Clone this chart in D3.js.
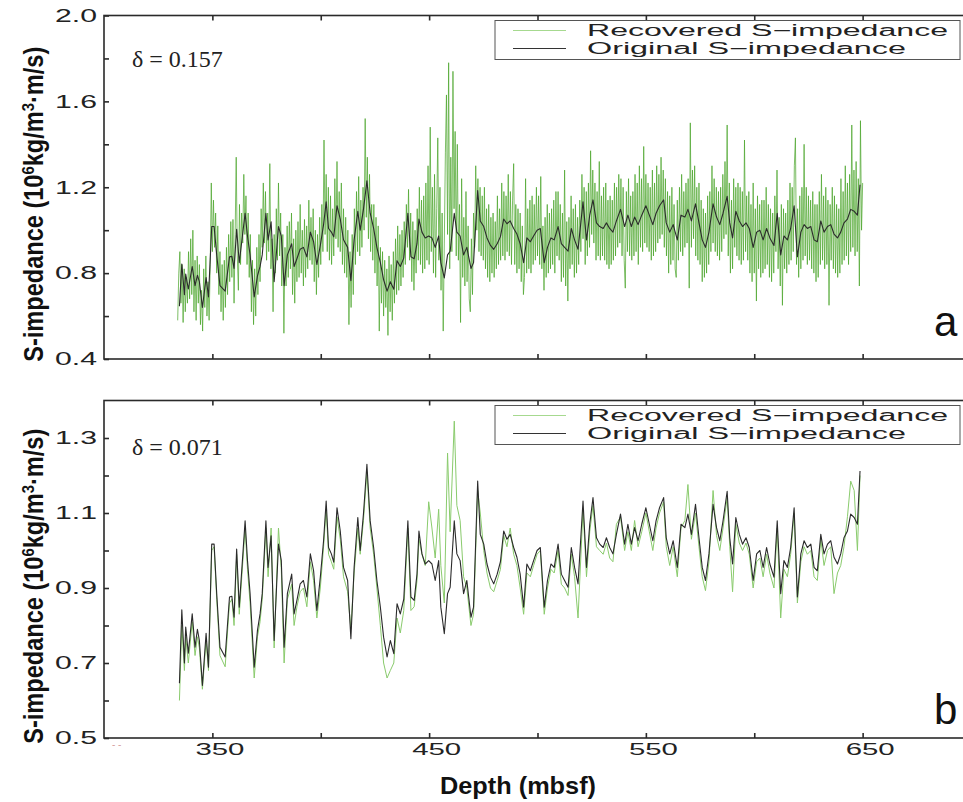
<!DOCTYPE html>
<html>
<head>
<meta charset="utf-8">
<script src="https://cdn.jsdelivr.net/npm/d3@7"></script>
<style>
  body { margin: 0; background: #fff; }
</style>
</head>
<body>
<svg id="chart" width="963" height="802"></svg>
<script>
// Original S-impedance log (depth in mbsf, impedance in 10^6 kg/m^3·m/s)
const originalDepth = [
  334.8,335.9,337.1,337.7,338.9,340.7,342.0,343.1,344.0,345.4,
  347.1,348.2,349.7,350.8,352.0,353.5,355.9,357.9,359.0,360.0,
  361.2,362.4,365.1,366.2,367.4,369.3,370.8,372.0,373.0,374.7,
  375.7,377.1,378.5,380.5,381.8,383.1,384.6,386.6,387.7,389.0,
  390.5,392.0,393.6,395.2,396.7,398.2,399.8,401.3,402.5,403.6,
  404.9,406.0,407.5,409.0,410.5,412.4,413.9,415.4,417.1,418.2,
  419.7,421.3,422.8,424.4,425.9,427.5,429.0,430.6,432.1,433.7,
  435.2,436.7,438.3,440.2,441.6,443.1,444.4,445.3,446.7,448.2,
  449.8,451.3,452.8,454.4,455.4,457.0,458.5,459.7,461.6,462.8,
  464.3,465.9,467.4,469.3,470.5,472.4,473.6,475.2,476.7,478.3,
  479.8,481.4,482.9,484.4,485.9,487.4,489.0,490.5,492.0,493.6,
  495.1,496.7,498.2,499.8,501.3,503.1,504.6,506.2,507.7,509.5,
  511.0,512.5,514.1,515.6,517.1,518.7,521.0,522.6,524.1,525.6,
  527.2,528.7,530.3,531.8,533.3,534.8,536.4,538.3,540.2,541.7,
  543.3,544.8,546.4,548.1,550.0,551.6,553.2,554.7,556.3,558.2,
  559.4,561.0,562.6,564.5,566.2,568.0,569.4,571.0,572.9,574.5,
  576.0,577.5,579.1,581.0,582.6,584.1,585.6,587.5,588.7,590.0,
  591.5,593.1,594.6,596.2,597.7,599.5,601.1,602.6,604.1,605.7,
  607.2,609.1,610.6,612.2,613.7,615.3,616.8,618.4,619.9,621.5,
  623.0,624.5,626.1,627.6,629.1,630.7,632.2,633.8,635.3,636.8,
  638.4,639.9,641.4,643.0,644.5,646.1,647.6,648.8
];
const originalImpedance = [
  0.646,0.842,0.700,0.796,0.726,0.831,0.742,0.790,0.760,0.640,
  0.779,0.689,1.017,1.017,0.885,0.742,0.716,0.876,0.878,0.822,
  1.004,0.849,1.079,0.973,0.885,0.689,0.787,0.831,0.885,1.079,
  0.955,1.039,0.760,1.017,0.973,0.742,0.885,0.937,0.831,0.867,
  0.911,0.920,0.876,0.991,0.946,0.840,0.929,1.026,1.132,1.008,
  0.991,0.969,1.114,1.052,0.955,0.920,0.765,0.955,1.088,1.000,
  1.097,1.230,1.079,1.008,0.920,0.849,0.769,0.716,0.760,0.725,
  0.858,0.831,0.870,1.079,0.876,0.867,0.937,1.052,0.991,0.964,
  0.973,0.964,0.920,0.973,0.849,0.778,0.885,0.902,1.079,0.991,
  0.973,0.885,0.920,0.822,0.849,1.185,1.043,1.017,0.964,0.929,
  0.911,0.937,0.970,1.052,1.030,1.043,1.008,0.982,0.937,0.849,
  0.964,0.946,0.973,1.000,1.008,0.849,0.920,0.964,0.955,1.017,
  0.937,0.920,0.902,1.008,0.955,0.911,1.132,0.955,1.070,1.141,
  1.034,1.017,1.008,1.034,1.008,0.991,1.043,1.097,1.017,1.070,
  1.017,1.061,1.026,1.070,1.114,1.070,1.026,1.079,1.114,1.141,
  1.034,0.991,1.026,0.955,1.070,1.061,1.097,1.043,1.123,1.034,
  0.955,0.920,0.991,1.123,1.061,1.026,1.079,1.158,1.034,0.964,
  1.088,1.043,1.017,1.034,1.008,0.920,0.991,1.000,0.955,1.008,
  0.964,0.929,1.079,0.885,0.973,0.955,1.008,1.114,0.876,0.991,
  1.026,1.008,1.017,0.955,0.946,1.043,0.991,1.017,1.026,0.982,
  0.964,0.991,1.034,1.052,1.097,1.088,1.070,1.212
];

// Recovered impedance, low-noise inversion (sampled at originalDepth)
const recoveredLowNoise = [
  0.600,0.800,0.680,0.770,0.700,0.810,0.720,0.770,0.740,0.630,
  0.760,0.680,1.000,1.010,0.870,0.720,0.690,0.860,0.870,0.800,
  0.990,0.830,1.060,0.950,0.860,0.660,0.770,0.810,0.870,1.060,
  0.930,1.060,0.740,1.060,0.950,0.700,0.870,0.910,0.800,0.850,
  0.890,0.900,0.850,0.970,0.920,0.820,0.900,1.010,1.110,0.990,
  0.970,0.950,1.090,1.030,0.930,0.890,0.790,0.940,1.060,0.990,
  1.080,1.210,1.060,0.990,0.900,0.800,0.700,0.660,0.680,0.700,
  0.820,0.780,0.840,1.060,0.840,0.850,0.920,1.030,0.990,0.960,
  1.130,1.060,0.980,1.110,0.960,0.860,1.260,1.050,1.345,1.120,
  1.080,0.930,0.900,0.800,0.830,1.160,1.100,1.000,0.940,0.900,
  0.890,0.920,0.950,1.040,1.010,1.060,0.990,0.960,0.900,0.830,
  0.940,0.930,0.960,0.990,1.000,0.830,0.900,0.950,0.940,1.000,
  0.910,0.900,0.880,0.990,0.930,0.820,1.110,0.930,1.050,1.120,
  1.010,1.000,0.990,1.020,0.980,0.970,1.070,1.090,1.000,1.050,
  1.000,1.080,1.010,1.050,1.100,1.050,1.000,1.060,1.100,1.130,
  1.010,0.960,1.010,0.930,1.060,1.080,1.176,1.030,1.100,1.010,
  0.930,0.893,0.970,1.160,1.040,1.000,1.060,1.140,1.010,0.890,
  1.070,1.020,1.000,1.020,0.990,0.900,0.970,0.980,0.930,0.990,
  0.940,0.900,1.060,0.820,0.950,0.930,0.990,1.100,0.860,0.970,
  1.010,0.990,1.000,0.930,0.920,1.030,0.960,1.000,1.010,0.885,
  0.940,0.960,1.010,1.090,1.185,1.160,1.000,1.200
];

// Recovered impedance, high-noise inversion (0.5 m sampling from 334 mbsf)
const recoveredHighNoiseStart = 334;
const recoveredHighNoiseStep = 0.5;
const recoveredHighNoise = [
  0.58,0.80,0.90,0.66,0.84,0.57,0.82,0.62,0.78,0.66,
  0.90,0.68,0.96,0.70,1.00,0.62,0.86,0.58,0.88,0.66,
  0.84,0.56,0.72,0.53,0.82,0.64,0.88,0.60,0.76,0.58,
  0.84,1.22,0.90,1.14,0.92,1.08,0.80,1.02,0.70,0.90,
  0.62,0.84,0.58,0.86,0.64,0.92,0.70,0.98,0.76,1.04,
  0.78,1.05,0.66,0.98,1.34,0.88,0.72,1.12,0.84,1.08,
  0.94,1.26,0.98,1.16,0.84,1.08,0.78,0.98,0.62,0.86,
  0.56,0.82,0.60,0.92,0.70,0.98,0.76,1.10,0.92,1.22,
  0.94,1.18,0.86,1.08,0.90,1.31,0.82,0.96,0.62,0.98,
  0.80,1.10,0.86,1.22,0.88,1.08,0.74,0.98,0.52,0.92,
  0.74,1.02,0.78,1.04,0.82,1.08,0.70,0.96,0.66,1.00,
  0.76,1.04,0.78,1.12,0.80,1.00,0.74,1.05,0.78,1.02,
  0.82,1.14,0.86,1.06,0.84,1.10,0.76,1.00,0.70,0.98,
  0.78,1.06,0.84,1.12,0.90,1.42,0.98,1.26,0.90,1.20,
  0.86,1.16,0.84,1.10,0.88,1.24,0.96,1.32,0.92,1.18,
  0.90,1.22,0.84,1.10,0.80,1.06,0.78,1.00,0.56,0.90,
  0.64,0.98,0.70,1.10,0.84,1.18,0.90,1.25,0.88,1.14,
  0.92,1.20,1.00,1.52,1.06,1.34,0.96,1.26,0.90,1.12,
  0.86,1.12,0.80,1.06,0.74,1.02,0.53,0.92,0.66,0.90,
  0.60,0.86,0.64,0.82,0.51,0.88,0.62,0.84,0.58,0.90,
  0.66,0.96,0.70,1.02,0.72,0.98,0.74,1.00,0.78,1.04,
  0.84,1.12,0.92,1.19,0.86,1.08,0.76,1.04,0.72,1.00,
  0.80,1.10,0.86,1.20,0.84,1.14,0.80,1.16,0.82,1.22,
  0.86,1.30,0.84,1.48,0.90,1.20,0.80,1.26,0.78,1.10,
  1.43,0.86,1.20,0.72,1.08,0.53,0.94,1.36,1.63,0.98,
  1.78,0.82,1.34,0.90,1.74,1.10,1.46,0.88,1.40,0.86,
  1.12,0.57,1.24,0.78,1.06,0.74,1.18,0.76,1.02,0.68,
  0.62,0.96,0.70,1.08,0.92,1.30,1.00,1.24,0.90,1.20,
  0.88,1.16,0.86,1.20,0.82,1.10,0.78,1.12,0.76,1.06,
  0.80,1.08,0.78,1.04,0.82,1.16,0.84,1.10,0.86,1.22,
  0.88,1.18,0.86,1.16,0.90,1.26,0.88,1.18,0.84,1.14,
  1.31,0.84,1.12,0.80,1.10,0.82,1.08,0.76,1.02,0.70,
  0.78,1.24,0.80,1.10,0.82,1.14,0.80,1.16,0.84,1.12,
  0.86,1.20,0.88,1.16,0.84,1.25,0.82,1.02,0.72,1.06,
  0.78,1.12,0.80,1.08,0.82,1.10,0.84,1.14,0.80,1.18,
  0.88,1.18,0.86,1.12,0.76,1.08,0.78,1.28,0.74,1.04,
  0.67,1.06,0.82,1.16,0.84,1.10,0.78,1.12,0.80,1.06,
  0.84,1.14,0.90,1.26,0.96,1.20,0.84,1.18,0.88,1.22,
  0.92,1.37,0.98,1.28,0.94,1.22,0.86,1.18,0.88,1.32,
  0.86,1.16,0.88,1.20,0.86,1.22,0.84,1.14,0.82,1.16,
  0.84,1.14,0.86,1.22,0.88,1.20,0.92,1.26,0.94,1.24,
  0.88,1.20,0.86,0.73,1.18,0.90,1.24,0.88,1.16,0.86,
  1.18,0.88,1.26,0.90,1.22,0.84,1.30,0.92,1.24,0.90,
  1.39,0.94,1.26,0.92,1.22,0.90,1.20,0.86,1.28,0.88,
  1.22,0.90,1.30,0.94,1.26,0.96,1.34,0.98,1.28,0.92,
  1.24,0.88,1.18,0.80,1.16,0.84,1.20,0.86,1.12,0.82,
  0.78,1.14,0.86,1.20,0.90,1.26,0.88,1.18,0.92,1.22,
  0.94,1.24,0.73,1.50,0.92,1.28,0.96,1.30,0.88,1.20,
  0.86,1.22,0.84,1.14,0.76,1.10,0.78,1.08,0.80,1.16,
  0.84,1.18,0.90,1.30,0.94,1.24,0.90,1.20,0.88,1.18,
  0.86,1.20,0.90,1.26,0.96,1.32,0.98,1.49,0.88,1.22,
  0.80,1.14,0.82,1.24,0.92,1.20,0.88,1.22,0.86,1.20,
  0.84,1.18,0.86,1.42,0.90,1.16,0.86,1.18,0.80,1.12,
  0.76,1.22,0.80,1.10,0.67,1.16,0.82,1.12,0.78,1.14,
  0.80,1.14,0.82,1.20,0.84,1.12,0.78,1.10,0.76,1.08,
  0.80,1.16,0.90,1.28,0.82,1.06,0.74,1.12,0.65,1.10,
  0.82,1.08,0.80,1.14,0.84,1.22,0.86,1.20,0.90,1.30,
  1.43,0.84,1.10,0.78,1.16,0.82,1.20,0.86,1.40,0.88,
  1.20,0.84,1.16,0.86,1.14,0.82,1.18,0.80,1.12,0.76,
  1.12,0.78,1.18,0.84,1.26,0.86,1.16,0.82,1.20,0.84,
  1.14,0.65,1.12,0.86,1.20,0.82,1.16,0.80,1.12,0.78,
  1.10,0.80,1.24,0.84,1.18,0.86,1.30,0.88,1.22,0.84,
  1.26,0.90,1.49,0.92,1.28,0.88,1.32,0.90,1.24,0.74,
  1.51,1.00,1.22
];

// Axis ticks and labels
const depthDomain = [300, 700];
const depthTicks = [350, 400, 450, 500, 550, 600, 650];
const depthTickLabels = [350, 450, 550, 650];
const yDomainA = [0.4, 2.0];
const yTicksA = [0.4, 0.8, 1.2, 1.6, 2.0];
const yMinorA = [0.6, 1.0, 1.4, 1.8];
const yDomainB = [0.5, 1.4];
const yTicksB = [0.5, 0.7, 0.9, 1.1, 1.3];
const yMinorB = [0.6, 0.8, 1.0, 1.2];
const legendLabels = ["Recovered S\u2212impedance", "Original S\u2212impedance"];
const deltaValues = ["0.157", "0.071"];
const panelLetters = ["a", "b"];
const xTitle = "Depth (mbsf)";

const svg = d3.select("#chart");
const left = 104, right = 971;
const x = d3.scaleLinear().domain(depthDomain).range([left, right]);

const original = originalDepth.map((d, i) => ({ d, v: originalImpedance[i] }));
const recLow = originalDepth.map((d, i) => ({ d, v: recoveredLowNoise[i] }));
const recHigh = recoveredHighNoise.map((v, i) => ({ d: recoveredHighNoiseStart + i * recoveredHighNoiseStep, v }));

const panels = [
  { top: 15.5, bottom: 359, domain: yDomainA, ticks: yTicksA, minor: yMinorA,
    rec: recHigh, recColor: "#4aa52a", recWidth: 0.8, recOpacity: 0.9,
    delta: deltaValues[0], letter: panelLetters[0], letterY: 336, showX: false },
  { top: 400.5, bottom: 738, domain: yDomainB, ticks: yTicksB, minor: yMinorB,
    rec: recLow, recColor: "#8acb6d", recWidth: 1.0, recOpacity: 1,
    delta: deltaValues[1], letter: panelLetters[1], letterY: 724, showX: true }
];

const axisColor = "#2a2a2a";
const labelFont = "'Liberation Sans', Arial, Helvetica, sans-serif";

function styleAxis(g) {
  g.select(".domain").remove();
  g.selectAll(".tick line").attr("stroke", axisColor).attr("stroke-width", 1.6);
  g.attr("font-family", labelFont).attr("fill", "#222");
  g.selectAll(".tick text").attr("fill", "#222");
}

panels.forEach((p, idx) => {
  const y = d3.scaleLinear().domain(p.domain).range([p.bottom, p.top]);
  const g = svg.append("g").attr("class", "panel-" + p.letter);

  const clipId = "clip-" + p.letter;
  svg.append("clipPath").attr("id", clipId)
    .append("rect").attr("x", left).attr("y", p.top)
    .attr("width", right - left).attr("height", p.bottom - p.top);

  const line = d3.line().x(e => x(e.d)).y(e => y(e.v));
  const plot = g.append("g").attr("clip-path", `url(#${clipId})`);
  plot.append("path").datum(p.rec)
    .attr("fill", "none").attr("stroke", p.recColor)
    .attr("stroke-width", p.recWidth).attr("stroke-opacity", p.recOpacity)
    .attr("stroke-linejoin", "round").attr("d", line);
  plot.append("path").datum(original)
    .attr("fill", "none").attr("stroke", "#2b2b2b")
    .attr("stroke-width", 1.1).attr("stroke-linejoin", "round").attr("d", line);

  // y axis (labelled major ticks + minor ticks), ticks point inward
  const ya = g.append("g").attr("transform", `translate(${left},0)`)
    .call(d3.axisLeft(y).tickValues(p.ticks).tickSize(-5).tickPadding(7).tickFormat(d3.format(".1f")));
  styleAxis(ya);
  ya.selectAll(".tick text").attr("font-size", 18)
    .attr("textLength", 42).attr("lengthAdjust", "spacingAndGlyphs");
  const ym = g.append("g").attr("transform", `translate(${left},0)`)
    .call(d3.axisLeft(y).tickValues(p.minor).tickSize(-5).tickFormat(""));
  styleAxis(ym);
  const yr = g.append("g").attr("transform", `translate(${right},0)`)
    .call(d3.axisRight(y).tickValues(p.ticks.concat(p.minor)).tickSize(-5).tickFormat(""));
  styleAxis(yr);

  // x axes (bottom and top)
  const xb = g.append("g").attr("transform", `translate(0,${p.bottom})`)
    .call(d3.axisBottom(x).tickValues(depthTicks).tickSize(-5).tickPadding(6)
      .tickFormat(d => (p.showX && depthTickLabels.includes(d)) ? d : ""));
  styleAxis(xb);
  xb.selectAll(".tick text").filter(function () { return this.textContent !== ""; })
    .attr("font-size", 16).attr("dx", 7)
    .attr("textLength", 49).attr("lengthAdjust", "spacingAndGlyphs");
  const xt = g.append("g").attr("transform", `translate(0,${p.top})`)
    .call(d3.axisTop(x).tickValues(depthTicks).tickSize(-5).tickFormat(""));
  styleAxis(xt);

  // frame
  g.append("rect").attr("x", left).attr("y", p.top)
    .attr("width", right - left).attr("height", p.bottom - p.top)
    .attr("fill", "none").attr("stroke", axisColor).attr("stroke-width", 1.6);

  // legend
  const lg = g.append("g").attr("transform", `translate(495,${p.top + 5})`);
  lg.append("rect").attr("x", 0).attr("y", 0).attr("width", 465).attr("height", 39)
    .attr("fill", "#fff").attr("stroke", "#555").attr("stroke-width", 1);
  lg.append("line").attr("x1", 18).attr("x2", 71).attr("y1", 10).attr("y2", 10)
    .attr("stroke", "#a6d98f").attr("stroke-width", 1.2);
  lg.append("line").attr("x1", 18).attr("x2", 71).attr("y1", 28).attr("y2", 28)
    .attr("stroke", "#333").attr("stroke-width", 1.2);
  lg.append("text").attr("x", 92).attr("y", 15.5)
    .attr("font-family", labelFont).attr("font-size", 16).attr("fill", "#222")
    .attr("textLength", 361).attr("lengthAdjust", "spacingAndGlyphs")
    .text(legendLabels[0]);
  lg.append("text").attr("x", 92).attr("y", 33.5)
    .attr("font-family", labelFont).attr("font-size", 16).attr("fill", "#222")
    .attr("textLength", 319).attr("lengthAdjust", "spacingAndGlyphs")
    .text(legendLabels[1]);

  // misfit annotation
  g.append("text").attr("x", 132).attr("y", p.top + (idx === 0 ? 51 : 54.5))
    .attr("font-family", "'Liberation Serif', 'Times New Roman', serif")
    .attr("font-size", 24).attr("fill", "#222")
    .text("\u03b4 = " + p.delta);

  // panel letter
  g.append("text").attr("x", 934).attr("y", p.letterY)
    .attr("font-family", labelFont).attr("font-size", 42).attr("fill", "#111")
    .text(p.letter);

  // y-axis title
  const yt = g.append("text")
    .attr("transform", `translate(43,${(p.top + p.bottom) / 2 + 17}) rotate(-90)`)
    .attr("text-anchor", "middle")
    .attr("font-family", "'Liberation Sans Narrow', 'Arial Narrow', 'Liberation Sans', sans-serif")
    .attr("font-weight", "bold").attr("font-size", 27).attr("fill", "#111")
    .attr("textLength", 315).attr("lengthAdjust", "spacingAndGlyphs");
  yt.append("tspan").text("S-impedance (10");
  yt.append("tspan").attr("dy", -9).attr("font-size", 17).text("6");
  yt.append("tspan").attr("dy", 9).text("kg/m");
  yt.append("tspan").attr("dy", -9).attr("font-size", 17).text("3");
  yt.append("tspan").attr("dy", 9).text("\u00b7m/s)");
});

// x-axis title
svg.append("text").attr("x", 518).attr("y", 794)
  .attr("text-anchor", "middle")
  .attr("font-family", "'Liberation Sans Narrow', 'Arial Narrow', 'Liberation Sans', sans-serif")
  .attr("font-weight", "bold").attr("font-size", 24).attr("fill", "#111")
  .attr("textLength", 156).attr("lengthAdjust", "spacingAndGlyphs")
  .text(xTitle);

// faint stray marks below the lower axis
svg.append("text").attr("x", 112).attr("y", 748)
  .attr("font-family", labelFont).attr("font-size", 10).attr("fill", "#d4a0a0")
  .text("-   -");
</script>
</body>
</html>
